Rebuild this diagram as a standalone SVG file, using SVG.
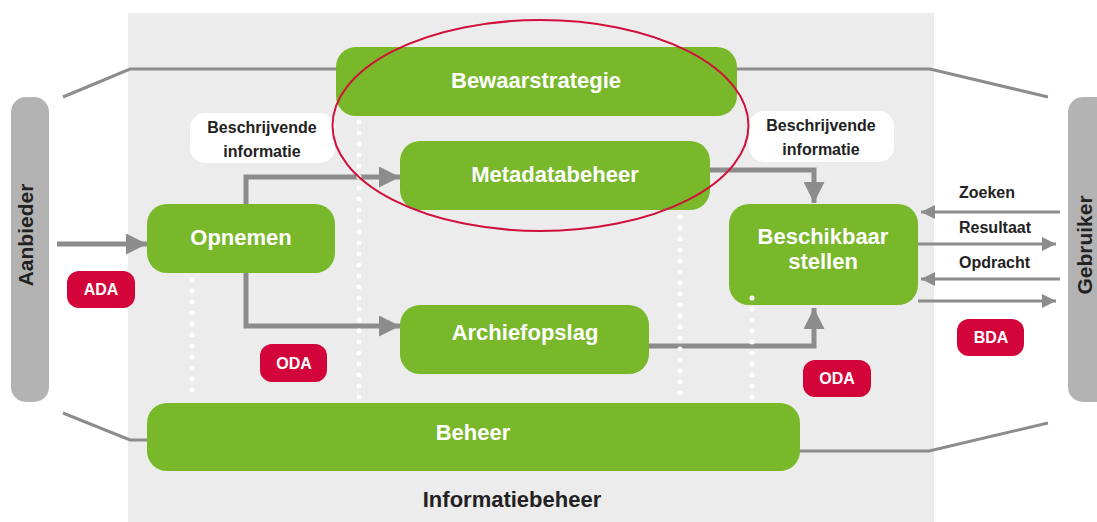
<svg xmlns="http://www.w3.org/2000/svg" width="1097" height="522" viewBox="0 0 1097 522">
<defs>
<style>
.box{fill:#78b82a}
.pill{fill:#b3b3b3}
.badge{fill:#d3043a}
.lbl{fill:#fff}
.t{font-family:"Liberation Sans",Arial,sans-serif;font-weight:bold}
.w{fill:#fff}
.d{fill:#222}
.line{fill:none;stroke:#8c8c8c;stroke-width:3}
.flow{fill:none;stroke:#8c8c8c;stroke-width:5}
.io{fill:none;stroke:#8c8c8c;stroke-width:3}
.dots{fill:none;stroke:#fff;stroke-width:5;stroke-linecap:round;stroke-dasharray:0 11}
</style>
<marker id="ah" viewBox="0 0 10 10" refX="10" refY="5" markerUnits="userSpaceOnUse" markerWidth="29" markerHeight="21" orient="auto"><path d="M0,0 L10,5 L0,10 z" fill="#8c8c8c"/></marker>
<marker id="ahs" viewBox="0 0 10 10" refX="10" refY="5" markerUnits="userSpaceOnUse" markerWidth="18" markerHeight="14" orient="auto"><path d="M0,0 L10,5 L0,10 z" fill="#8c8c8c"/></marker>
</defs>
<rect x="128" y="13" width="806" height="509" fill="#ececec"/>
<g id="frame-lines">
<path class="line" d="M63,97 L130,69 L340,69"/>
<path class="line" d="M732,69 L930,69 L1048,97"/>
<path class="line" d="M63,413 L130,440 L150,440"/>
<path class="line" d="M796,451 L929,451 L1048,423"/>
</g>
<g id="connectors">
<path class="flow" d="M57,244 L147,244" marker-end="url(#ah)"/>
<path class="flow" d="M246,204 L246,177 L400,177" marker-end="url(#ah)"/>
<path class="flow" d="M246,272 L246,326 L400,326" marker-end="url(#ah)"/>
<path class="flow" d="M710,170 L814,170 L814,203" marker-end="url(#ah)"/>
<path class="flow" d="M649,346 L814,346 L814,308" marker-end="url(#ah)"/>
<path class="io" d="M1060,212 L921,212" marker-end="url(#ahs)"/>
<path class="io" d="M918,244 L1056,244" marker-end="url(#ahs)"/>
<path class="io" d="M1060,279 L921,279" marker-end="url(#ahs)"/>
<path class="io" d="M918,301 L1056,301" marker-end="url(#ahs)"/>
</g>
<g id="aanbieder">
<rect class="pill" x="11" y="97" width="38" height="305" rx="15"/>
<text class="t d" font-size="21" transform="translate(33,235) rotate(-90)" text-anchor="middle">Aanbieder</text>
</g>
<g id="gebruiker">
<rect class="pill" x="1068" y="97" width="45" height="305" rx="15"/>
<text class="t d" font-size="21" transform="translate(1092,245) rotate(-90)" text-anchor="middle">Gebruiker</text>
</g>
<g id="bewaarstrategie">
<rect class="box" x="336" y="47" width="401" height="69" rx="20"/>
<text class="t w" font-size="22" x="536" y="88" text-anchor="middle">Bewaarstrategie</text>
</g>
<g id="metadatabeheer">
<rect class="box" x="400" y="141" width="310" height="69" rx="20"/>
<text class="t w" font-size="22" x="555" y="182" text-anchor="middle">Metadatabeheer</text>
</g>
<g id="opnemen">
<rect class="box" x="147" y="204" width="188" height="69" rx="20"/>
<text class="t w" font-size="22" x="241" y="245" text-anchor="middle">Opnemen</text>
</g>
<g id="archiefopslag">
<rect class="box" x="400" y="305" width="249" height="69" rx="20"/>
<text class="t w" font-size="22" x="525" y="340" text-anchor="middle">Archiefopslag</text>
</g>
<g id="beschikbaar-stellen">
<rect class="box" x="729" y="204" width="189" height="101" rx="20"/>
<text class="t w" font-size="22" x="823" y="244" text-anchor="middle">Beschikbaar</text>
<text class="t w" font-size="22" x="823" y="269" text-anchor="middle">stellen</text>
</g>
<g id="beheer">
<rect class="box" x="147" y="403" width="653" height="68" rx="20"/>
<text class="t w" font-size="22" x="473" y="440" text-anchor="middle">Beheer</text>
</g>
<g id="dotted">
<path class="dots" d="M192,280 L192,400"/>
<path class="dots" d="M359,122 L359,400"/>
<path class="dots" d="M680,217 L680,400"/>
<path class="dots" d="M752,298 L752,400"/>
</g>
<g id="beschrijvende-1">
<rect class="lbl" x="190" y="113" width="145" height="50" rx="15"/>
<text class="t d" font-size="16" x="262" y="133" text-anchor="middle">Beschrijvende</text>
<text class="t d" font-size="16" x="262" y="157" text-anchor="middle">informatie</text>
</g>
<g id="beschrijvende-2">
<rect class="lbl" x="749" y="111" width="145" height="51" rx="15"/>
<text class="t d" font-size="16" x="821" y="131" text-anchor="middle">Beschrijvende</text>
<text class="t d" font-size="16" x="821" y="155" text-anchor="middle">informatie</text>
</g>
<g id="io-labels">
<text class="t d" font-size="16" x="959" y="198">Zoeken</text>
<text class="t d" font-size="16" x="959" y="233">Resultaat</text>
<text class="t d" font-size="16" x="959" y="268">Opdracht</text>
</g>
<g id="ada">
<rect class="badge" x="67" y="271" width="68" height="37" rx="12"/>
<text class="t w" font-size="16" x="101" y="295" text-anchor="middle">ADA</text>
</g>
<g id="oda-1">
<rect class="badge" x="260" y="344" width="67" height="38" rx="12"/>
<text class="t w" font-size="16" x="294" y="369" text-anchor="middle">ODA</text>
</g>
<g id="oda-2">
<rect class="badge" x="803" y="360" width="68" height="37" rx="12"/>
<text class="t w" font-size="16" x="837" y="384" text-anchor="middle">ODA</text>
</g>
<g id="bda">
<rect class="badge" x="957" y="319" width="67" height="37" rx="12"/>
<text class="t w" font-size="16" x="991" y="343" text-anchor="middle">BDA</text>
</g>
<text class="t d" font-size="22" x="512" y="507" text-anchor="middle">Informatiebeheer</text>
<ellipse id="highlight" cx="540.5" cy="125.5" rx="208" ry="105.5" fill="none" stroke="#d0103a" stroke-width="2"/>
</svg>
